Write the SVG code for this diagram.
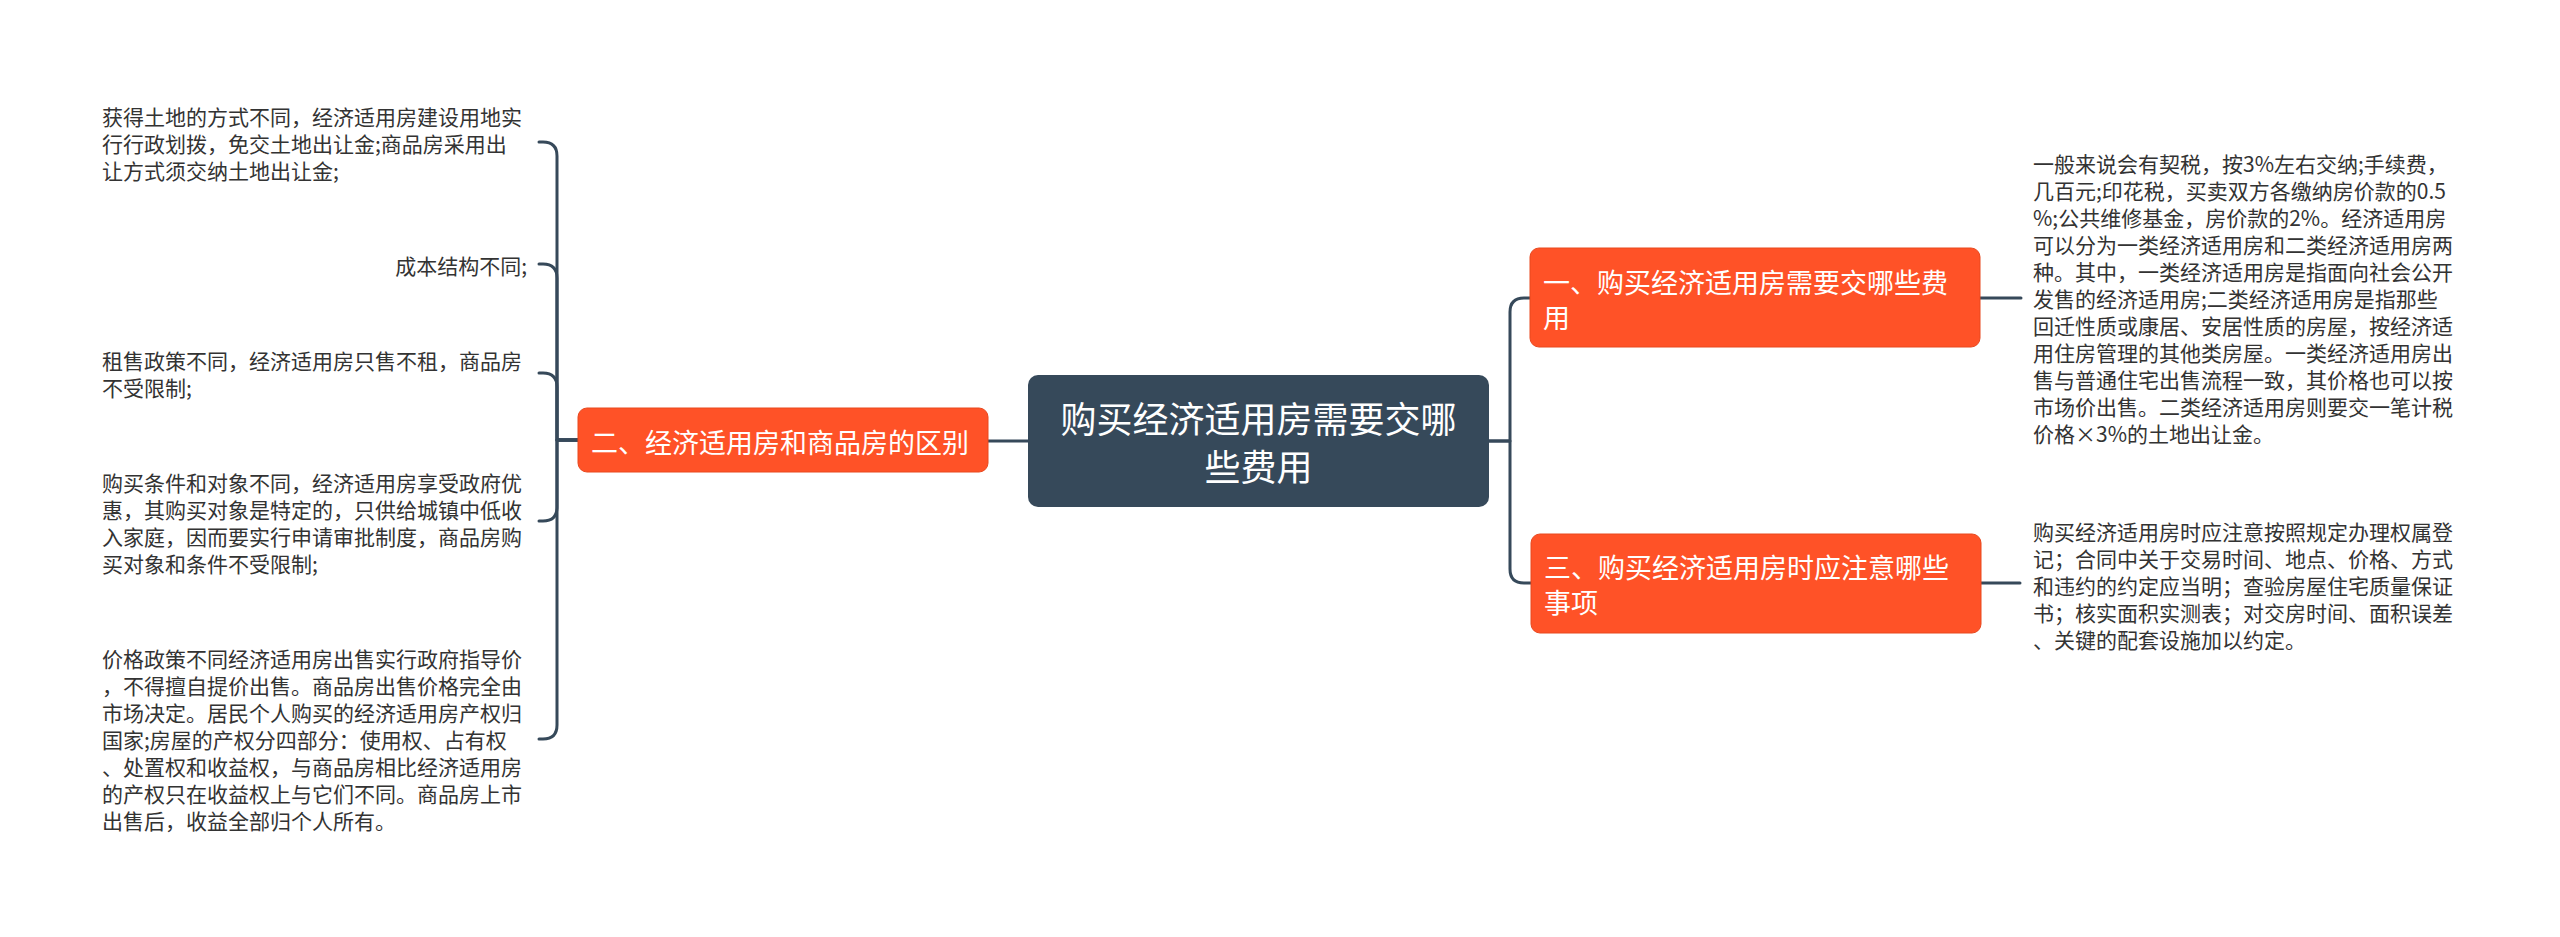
<svg xmlns="http://www.w3.org/2000/svg" width="2560" height="937" viewBox="0 0 2560 937">
<style>
.conn{fill:none;stroke:#36495a;stroke-width:3;stroke-linecap:round;stroke-linejoin:round}
.root{fill:#36495a}
.sub{fill:#ff5227;stroke:#e8481f;stroke-width:1}
.rt{font-family:"Noto Sans CJK SC","Noto Sans",sans-serif;font-size:36px;fill:#ffffff;text-anchor:middle;dominant-baseline:central}
.st{font-family:"Noto Sans CJK SC","Noto Sans",sans-serif;font-size:27px;fill:#ffffff;dominant-baseline:central}
.lt{font-family:"Noto Sans CJK SC","Noto Sans",sans-serif;font-size:21px;fill:#333333;dominant-baseline:central}
</style>
<rect width="2560" height="937" fill="#ffffff"/>
<g id="connectors">
<path class="conn" d="M1028,441 H988"/>
<path class="conn" d="M578,440 H557 V156 Q557,142 543,142 H539"/>
<path class="conn" d="M578,440 H557 V278 Q557,264 543,264 H539"/>
<path class="conn" d="M578,440 H557 V387 Q557,373 543,373 H539"/>
<path class="conn" d="M578,440 H557 V507 Q557,521 543,521 H539"/>
<path class="conn" d="M578,440 H557 V725 Q557,739 543,739 H539"/>
<path class="conn" d="M1489,441 H1510 V312 Q1510,298 1524,298 H1530"/>
<path class="conn" d="M1489,441 H1510 V569 Q1510,583 1524,583 H1531"/>
<path class="conn" d="M1980,298 H2021"/>
<path class="conn" d="M1981,583 H2020"/>
</g>
<g id="root">
<rect class="root" x="1028" y="375" width="461" height="132" rx="10"/>
<text class="rt" x="1258.5" y="417">购买经济适用房需要交哪</text>
<text class="rt" x="1258.5" y="465">些费用</text>
</g>
<g id="node-2">
<rect class="sub" x="578" y="408" width="410" height="64" rx="9"/>
<text class="st" x="591" y="441">二、经济适用房和商品房的区别</text>
</g>
<g id="node-1">
<rect class="sub" x="1530" y="248" width="450" height="99" rx="9"/>
<text class="st" x="1543" y="281">一、购买经济适用房需要交哪些费</text>
<text class="st" x="1543" y="316">用</text>
</g>
<g id="node-3">
<rect class="sub" x="1531" y="534" width="450" height="99" rx="9"/>
<text class="st" x="1544" y="566">三、购买经济适用房时应注意哪些</text>
<text class="st" x="1544" y="601">事项</text>
</g>
<g id="leaf-2a">
<text class="lt" x="102" y="116">获得土地的方式不同，经济适用房建设用地实</text>
<text class="lt" x="102" y="143">行行政划拨，免交土地出让金;商品房采用出</text>
<text class="lt" x="102" y="170">让方式须交纳土地出让金;</text>
</g>
<g id="leaf-2b">
<text class="lt" x="527" y="265" text-anchor="end">成本结构不同;</text>
</g>
<g id="leaf-2c">
<text class="lt" x="102" y="360">租售政策不同，经济适用房只售不租，商品房</text>
<text class="lt" x="102" y="387">不受限制;</text>
</g>
<g id="leaf-2d">
<text class="lt" x="102" y="482">购买条件和对象不同，经济适用房享受政府优</text>
<text class="lt" x="102" y="509">惠，其购买对象是特定的，只供给城镇中低收</text>
<text class="lt" x="102" y="536">入家庭，因而要实行申请审批制度，商品房购</text>
<text class="lt" x="102" y="563">买对象和条件不受限制;</text>
</g>
<g id="leaf-2e">
<text class="lt" x="102" y="658">价格政策不同经济适用房出售实行政府指导价</text>
<text class="lt" x="102" y="685">，不得擅自提价出售。商品房出售价格完全由</text>
<text class="lt" x="102" y="712">市场决定。居民个人购买的经济适用房产权归</text>
<text class="lt" x="102" y="739">国家;房屋的产权分四部分：使用权、占有权</text>
<text class="lt" x="102" y="766">、处置权和收益权，与商品房相比经济适用房</text>
<text class="lt" x="102" y="793">的产权只在收益权上与它们不同。商品房上市</text>
<text class="lt" x="102" y="820">出售后，收益全部归个人所有。</text>
</g>
<g id="leaf-1">
<text class="lt" x="2033" y="163">一般来说会有契税，按3%左右交纳;手续费，</text>
<text class="lt" x="2033" y="190">几百元;印花税，买卖双方各缴纳房价款的0.5</text>
<text class="lt" x="2033" y="217">%;公共维修基金，房价款的2%。经济适用房</text>
<text class="lt" x="2033" y="244">可以分为一类经济适用房和二类经济适用房两</text>
<text class="lt" x="2033" y="271">种。其中，一类经济适用房是指面向社会公开</text>
<text class="lt" x="2033" y="298">发售的经济适用房;二类经济适用房是指那些</text>
<text class="lt" x="2033" y="325">回迁性质或康居、安居性质的房屋，按经济适</text>
<text class="lt" x="2033" y="352">用住房管理的其他类房屋。一类经济适用房出</text>
<text class="lt" x="2033" y="379">售与普通住宅出售流程一致，其价格也可以按</text>
<text class="lt" x="2033" y="406">市场价出售。二类经济适用房则要交一笔计税</text>
<text class="lt" x="2033" y="433">价格×3%的土地出让金。</text>
</g>
<g id="leaf-3">
<text class="lt" x="2033" y="531">购买经济适用房时应注意按照规定办理权属登</text>
<text class="lt" x="2033" y="558">记；合同中关于交易时间、地点、价格、方式</text>
<text class="lt" x="2033" y="585">和违约的约定应当明；查验房屋住宅质量保证</text>
<text class="lt" x="2033" y="612">书；核实面积实测表；对交房时间、面积误差</text>
<text class="lt" x="2033" y="639">、关键的配套设施加以约定。</text>
</g>
</svg>
